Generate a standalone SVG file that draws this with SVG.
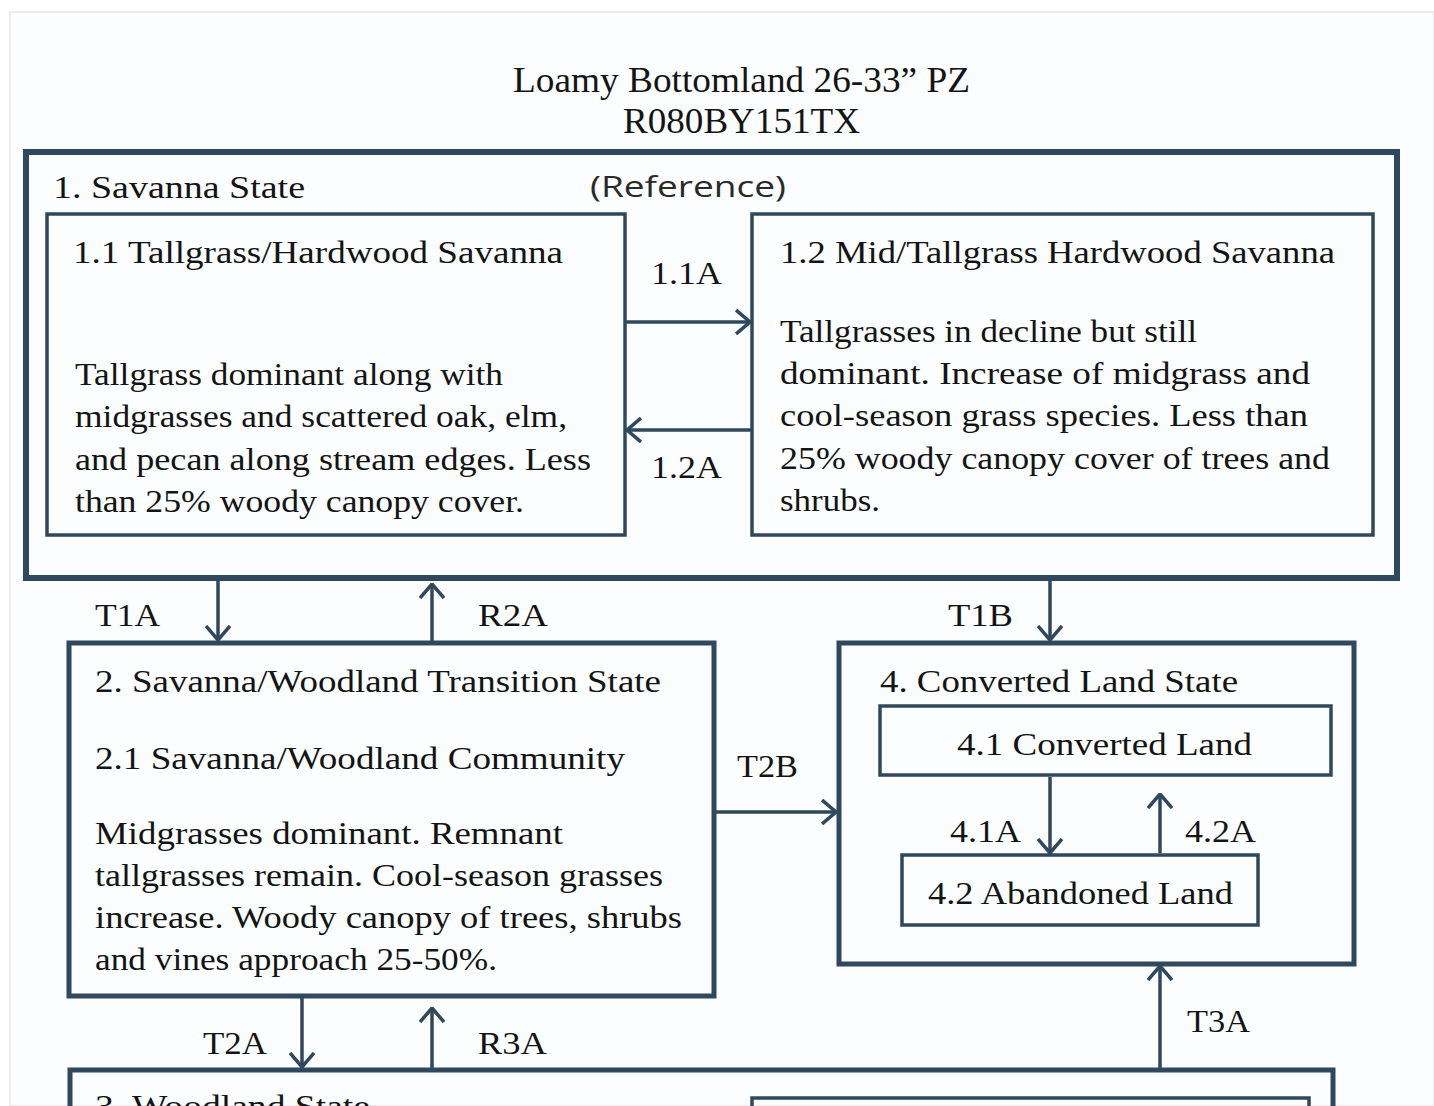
<svg xmlns="http://www.w3.org/2000/svg" width="1434" height="1106" viewBox="0 0 1434 1106">
<style>
.bg{fill:#fbfdfe}
.box{fill:none;stroke:#2f485e}
.outer{stroke-width:6}
.mid{stroke-width:5}
.inner{stroke-width:3.5}
.t{font-family:"Liberation Serif","Times New Roman",serif;fill:#141414;font-size:31px}
.title{font-size:36px}
.sans{font-family:"Open Sans","Liberation Sans",sans-serif;fill:#2a2a2a;font-size:30px}
.conn line{stroke:#2f485e;stroke-width:3.5;marker-end:url(#chev)}
</style>
<defs>
<marker id="chev" viewBox="0 0 16 26" refX="15" refY="13" markerWidth="16" markerHeight="26" markerUnits="userSpaceOnUse" orient="auto">
<path d="M1,1 L15,13 L1,25" fill="none" stroke="#2f485e" stroke-width="3.5"/>
</marker>
</defs>
<rect x="0" y="0" width="1434" height="1106" fill="#ffffff"/>
<rect class="bg" x="10" y="12" width="1424" height="1094" stroke="#ececec" stroke-width="2"/>

<g id="title">
<text class="t title" x="513" y="92" textLength="457" lengthAdjust="spacingAndGlyphs">Loamy Bottomland 26-33” PZ</text>
<text class="t title" x="623" y="133" textLength="237" lengthAdjust="spacingAndGlyphs">R080BY151TX</text>
</g>

<g id="state1">
<rect class="box outer" x="26" y="152" width="1371" height="426"/>
<text class="t" x="53" y="198" textLength="252" lengthAdjust="spacingAndGlyphs">1.  Savanna State</text>
<text class="sans" x="590" y="197" textLength="196" lengthAdjust="spacingAndGlyphs">(Reference)</text>
</g>

<g id="community1-1">
<rect class="box inner" x="47" y="214" width="578" height="321"/>
<text class="t" x="73" y="263" textLength="490" lengthAdjust="spacingAndGlyphs">1.1  Tallgrass/Hardwood Savanna</text>
<text class="t" x="75" y="385" textLength="428" lengthAdjust="spacingAndGlyphs">Tallgrass dominant along with</text>
<text class="t" x="75" y="427" textLength="492" lengthAdjust="spacingAndGlyphs">midgrasses and scattered oak, elm,</text>
<text class="t" x="75" y="470" textLength="516" lengthAdjust="spacingAndGlyphs">and pecan along stream edges.  Less</text>
<text class="t" x="75" y="512" textLength="449" lengthAdjust="spacingAndGlyphs">than 25% woody canopy cover.</text>
</g>

<g id="community1-2">
<rect class="box inner" x="752" y="214" width="621" height="321"/>
<text class="t" x="780" y="263" textLength="555" lengthAdjust="spacingAndGlyphs">1.2  Mid/Tallgrass Hardwood Savanna</text>
<text class="t" x="780" y="342" textLength="417" lengthAdjust="spacingAndGlyphs">Tallgrasses in decline but still</text>
<text class="t" x="780" y="384" textLength="530" lengthAdjust="spacingAndGlyphs">dominant.  Increase of midgrass  and</text>
<text class="t" x="780" y="426" textLength="528" lengthAdjust="spacingAndGlyphs">cool-season grass species.  Less than</text>
<text class="t" x="780" y="469" textLength="550" lengthAdjust="spacingAndGlyphs">25% woody canopy cover of trees and</text>
<text class="t" x="780" y="511" textLength="100" lengthAdjust="spacingAndGlyphs">shrubs.</text>
</g>

<g id="state2">
<rect class="box mid" x="69" y="643" width="645" height="353"/>
<text class="t" x="95" y="692" textLength="566" lengthAdjust="spacingAndGlyphs">2.  Savanna/Woodland Transition State</text>
<text class="t" x="95" y="769" textLength="530" lengthAdjust="spacingAndGlyphs">2.1  Savanna/Woodland Community</text>
<text class="t" x="95" y="844" textLength="468" lengthAdjust="spacingAndGlyphs">Midgrasses dominant.  Remnant</text>
<text class="t" x="95" y="886" textLength="568" lengthAdjust="spacingAndGlyphs">tallgrasses remain.  Cool-season grasses</text>
<text class="t" x="95" y="928" textLength="587" lengthAdjust="spacingAndGlyphs">increase.  Woody canopy of trees, shrubs</text>
<text class="t" x="95" y="970" textLength="402" lengthAdjust="spacingAndGlyphs">and vines approach 25-50%.</text>
</g>

<g id="state4">
<rect class="box mid" x="839" y="643" width="515" height="321"/>
<text class="t" x="880" y="692" textLength="358" lengthAdjust="spacingAndGlyphs">4.  Converted Land State</text>
</g>

<g id="community4-1">
<rect class="box inner" x="880" y="706" width="451" height="69"/>
<text class="t" x="957" y="755" textLength="295" lengthAdjust="spacingAndGlyphs">4.1  Converted Land</text>
</g>

<g id="community4-2">
<rect class="box inner" x="902" y="855" width="356" height="70"/>
<text class="t" x="928" y="904" textLength="305" lengthAdjust="spacingAndGlyphs">4.2 Abandoned Land</text>
</g>

<g id="state3">
<rect class="box mid" x="70" y="1070" width="1263" height="60"/>
<text class="t" x="95" y="1117" textLength="275" lengthAdjust="spacingAndGlyphs">3.  Woodland State</text>
</g>

<g id="community3-x">
<rect class="box inner" x="752" y="1098" width="557" height="40"/>
</g>

<g id="connectors" class="conn">
<line x1="625" y1="322" x2="750" y2="322"/>
<line x1="752" y1="430" x2="627" y2="430"/>
<line x1="218" y1="581" x2="218" y2="640"/>
<line x1="432" y1="641" x2="432" y2="584"/>
<line x1="1050" y1="581" x2="1050" y2="640"/>
<line x1="716" y1="812" x2="836" y2="812"/>
<line x1="1050" y1="777" x2="1050" y2="853"/>
<line x1="1160" y1="853" x2="1160" y2="794"/>
<line x1="1160" y1="1068" x2="1160" y2="966"/>
<line x1="302" y1="998" x2="302" y2="1067"/>
<line x1="432" y1="1068" x2="432" y2="1008"/>
</g>

<g id="connector-labels">
<text class="t" x="651" y="284" textLength="71" lengthAdjust="spacingAndGlyphs">1.1A</text>
<text class="t" x="651" y="478" textLength="71" lengthAdjust="spacingAndGlyphs">1.2A</text>
<text class="t" x="95" y="626" textLength="65" lengthAdjust="spacingAndGlyphs">T1A</text>
<text class="t" x="478" y="626" textLength="70" lengthAdjust="spacingAndGlyphs">R2A</text>
<text class="t" x="948" y="626" textLength="65" lengthAdjust="spacingAndGlyphs">T1B</text>
<text class="t" x="737" y="777" textLength="61" lengthAdjust="spacingAndGlyphs">T2B</text>
<text class="t" x="950" y="842" textLength="71" lengthAdjust="spacingAndGlyphs">4.1A</text>
<text class="t" x="1185" y="842" textLength="71" lengthAdjust="spacingAndGlyphs">4.2A</text>
<text class="t" x="203" y="1054" textLength="64" lengthAdjust="spacingAndGlyphs">T2A</text>
<text class="t" x="478" y="1054" textLength="69" lengthAdjust="spacingAndGlyphs">R3A</text>
<text class="t" x="1187" y="1032" textLength="63" lengthAdjust="spacingAndGlyphs">T3A</text>
</g>
</svg>
